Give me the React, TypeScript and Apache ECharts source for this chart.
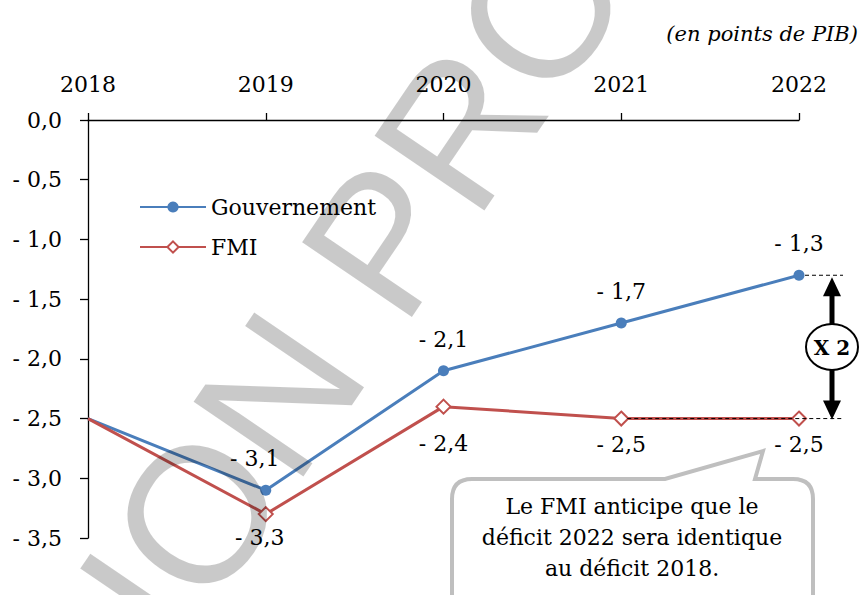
import React, { useEffect, useRef } from "react";
import * as echarts from "echarts";

const categories = ["2018", "2019", "2020", "2021", "2022"];
const gouvernement = [-2.5, -3.1, -2.1, -1.7, -1.3];
const fmi = [-2.5, -3.3, -2.4, -2.5, -2.5];
const yMin = -3.5;
const yMax = 0;
const yStep = 0.5;

const title = "(en points de PIB)";
const calloutText = "Le FMI anticipe que le\ndéficit 2022 sera identique\nau déficit 2018.";
const watermark = "VERSION PROVISOIRE";

// label placement styles (not data)
const gouvLabelOffsetX = [0, -11, 0, 0, 0];
const fmiLabelDistance = [0, 4, 18, 7, 7];
const fmiLabelOffsetX = [0, -6, 0, 0, 0];

const SERIF = "'DejaVu Serif', serif";
const BLUE = "#4A7EBB";
const RED = "#C0504D";

const CALLOUT_D =
  "M 472 479 L 665 479 L 763 451 L 755 479 L 793 479 Q 813 479 813 499 L 813 620 L 452 620 L 452 499 Q 452 479 472 479 Z";

const fmt = (v: number) => {
  const s = Math.abs(v).toFixed(1).replace(".", ",");
  return v < 0 ? "- " + s : s;
};

export default function App() {
  const ref = useRef<HTMLDivElement>(null);
  useEffect(() => {
    if (!ref.current) return;
    try {
      echarts.graphic.registerShape("callout", echarts.graphic.extendPath(CALLOUT_D, {}) as any);
    } catch (e) {}
    const chart = echarts.init(ref.current, null, { renderer: "svg" });
    const option: any = {
      animation: false,
      backgroundColor: "#fff",
      title: {
        text: title,
        right: 1,
        top: 18,
        textStyle: { fontFamily: SERIF, fontStyle: "italic", fontWeight: "normal", fontSize: 21, color: "#000" },
      },
      legend: {
        orient: "vertical",
        left: 134,
        top: 190,
        itemWidth: 66,
        itemHeight: 14,
        itemGap: 16,
        data: ["Gouvernement", "FMI"],
        textStyle: { fontFamily: SERIF, fontSize: 22, color: "#000", lineHeight: 24 },
      },
      grid: { left: 88, right: 65, top: 120, bottom: 57 },
      xAxis: {
        type: "category",
        position: "top",
        data: categories,
        boundaryGap: false,
        axisLine: { onZero: false, lineStyle: { color: "#000", width: 1.3 } },
        axisTick: { show: true, length: 7, inside: false, lineStyle: { color: "#000", width: 1.3 } },
        axisLabel: { fontFamily: SERIF, fontSize: 22, color: "#000", margin: 25 },
        splitLine: { show: false },
      },
      yAxis: {
        type: "value",
        min: yMin,
        max: yMax,
        interval: yStep,
        axisLine: { show: true, onZero: false, lineStyle: { color: "#000", width: 1.3 } },
        axisTick: { show: true, length: 8, lineStyle: { color: "#000", width: 1.3 } },
        axisLabel: { fontFamily: SERIF, fontSize: 22, color: "#000", margin: 26, formatter: (v: number) => fmt(v) },
        splitLine: { show: false },
      },
      series: [
        {
          name: "Gouvernement",
          type: "line",
          symbol: "circle",
          symbolSize: 11,
          itemStyle: { color: BLUE },
          lineStyle: { color: BLUE, width: 3 },
          z: 3,
          data: gouvernement.map((v, i) =>
            i === 0
              ? { value: v, symbol: "none", label: { show: false } }
              : { value: v, label: { offset: [gouvLabelOffsetX[i], 0] } }
          ),
          label: {
            show: true,
            position: "top",
            distance: 15,
            fontFamily: SERIF,
            fontSize: 22,
            color: "#000",
            formatter: (p: any) => fmt(p.value),
          },
        },
        {
          name: "FMI",
          type: "line",
          symbol: "emptyDiamond",
          symbolSize: 14,
          itemStyle: { color: RED, borderWidth: 1.2 },
          lineStyle: { color: RED, width: 3 },
          z: 4,
          data: fmi.map((v, i) =>
            i === 0
              ? { value: v, symbol: "none", label: { show: false } }
              : { value: v, label: { distance: fmiLabelDistance[i], offset: [fmiLabelOffsetX[i], 0] } }
          ),
          label: {
            show: true,
            position: "bottom",
            fontFamily: SERIF,
            fontSize: 22,
            color: "#000",
            formatter: (p: any) => fmt(p.value),
          },
        },
      ],
    };
    chart.setOption(option);

    const pt = (i: number, v: number) => chart.convertToPixel({ gridIndex: 0 }, [i, v]) as number[];
    const last = categories.length - 1;
    const gTop = pt(last, gouvernement[last]);
    const fPrev = pt(last - 1, fmi[last - 1]);
    const fBot = pt(last, fmi[last]);
    const endX = gTop[0] + 44;
    const ax = gTop[0] + 33;
    const yT = gTop[1];
    const yB = fBot[1];
    const cy = (yT + yB) / 2;

    const wmRot = (55.8 * Math.PI) / 180;

    chart.setOption({
      graphic: [
        {
          type: "line",
          z: 100,
          shape: { x1: gTop[0] + 6, y1: yT, x2: endX, y2: yT },
          style: { stroke: "#000", lineWidth: 1, lineDash: [4, 3] },
        },
        {
          type: "line",
          z: 100,
          shape: { x1: fPrev[0] + 6, y1: fPrev[1], x2: endX, y2: fPrev[1] },
          style: { stroke: "#000", lineWidth: 1, lineDash: [4, 3] },
        },
        {
          type: "line",
          z: 100,
          shape: { x1: ax, y1: yT + 18, x2: ax, y2: yB - 16 },
          style: { stroke: "#000", lineWidth: 5 },
        },
        {
          type: "polygon",
          z: 100,
          shape: { points: [[ax, yT + 2], [ax - 9, yT + 21], [ax + 9, yT + 21]] },
          style: { fill: "#000" },
        },
        {
          type: "polygon",
          z: 100,
          shape: { points: [[ax, yB + 1], [ax - 9, yB - 18], [ax + 9, yB - 18]] },
          style: { fill: "#000" },
        },
        {
          type: "ellipse",
          z: 101,
          shape: { cx: ax, cy: cy, rx: 26, ry: 23 },
          style: { fill: "#fff", stroke: "#000", lineWidth: 2 },
        },
        {
          type: "text",
          z: 102,
          x: ax,
          y: cy + 1,
          style: {
            text: "X 2",
            fill: "#000",
            font: "bold 20px 'DejaVu Serif', serif",
            align: "center",
            verticalAlign: "middle",
          },
        },
        {
          type: "callout",
          z: 100,
          style: { fill: "#fff", stroke: "#BFBFBF", lineWidth: 4 },
        },
        {
          type: "text",
          z: 101,
          x: 632,
          y: 537,
          style: {
            text: calloutText,
            fill: "#000",
            font: "22px 'DejaVu Serif', serif",
            align: "center",
            verticalAlign: "middle",
            lineHeight: 31,
          },
        },
        {
          type: "text",
          z: 200,
          x: 426,
          y: 177,
          rotation: wmRot,
          silent: true,
          style: {
            text: watermark,
            fill: "rgba(0,0,0,0.21)",
            font: "193px 'Liberation Sans', Arial, sans-serif",
            align: "center",
            verticalAlign: "middle",
          },
        },
      ],
    });
    return () => chart.dispose();
  }, []);
  return <div ref={ref} style={{ position: "fixed", left: 0, top: 0, width: 864, height: 595 }} />;
}
